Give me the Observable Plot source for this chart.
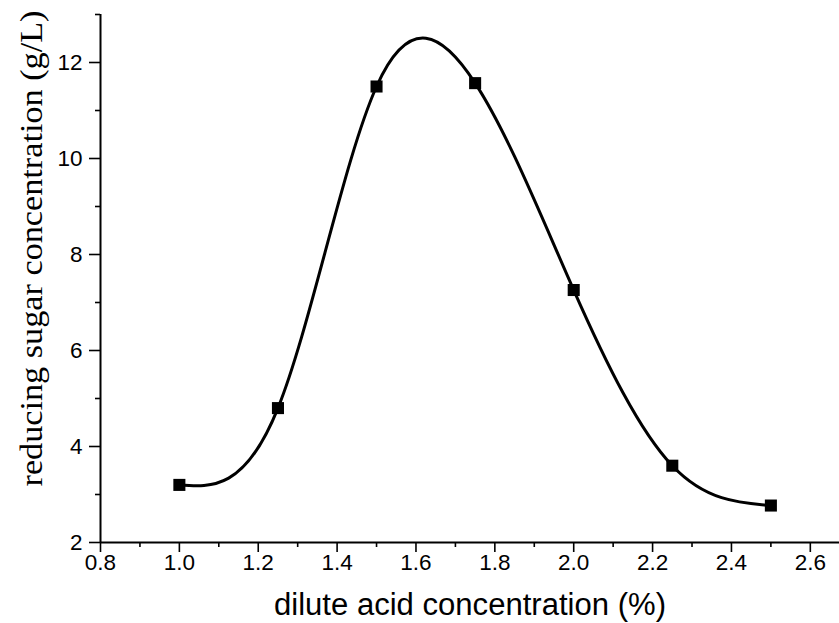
<!DOCTYPE html>
<html>
<head>
<meta charset="utf-8">
<script src="https://cdn.jsdelivr.net/npm/d3@7"></script>
<script src="https://cdn.jsdelivr.net/npm/@observablehq/plot@0.6"></script>
<style>
  html, body { margin: 0; padding: 0; background: #fff; }
  #chart svg { display: block; }
  #chart svg g[aria-label$="tick label"] text { font-size: 22.5px !important; font-family: "Liberation Sans", Arial, sans-serif !important; fill: #000; }
</style>
</head>
<body>
<div id="chart"></div>
<script>
const acid = [1.0, 1.25, 1.5, 1.75, 2.0, 2.25, 2.5];
const sugar = [3.2, 4.8, 11.5, 11.57, 7.26, 3.6, 2.77];
const xMajor = [0.8, 1.0, 1.2, 1.4, 1.6, 1.8, 2.0, 2.2, 2.4, 2.6];
const xMinor = [0.9, 1.1, 1.3, 1.5, 1.7, 1.9, 2.1, 2.3, 2.5];
const yMajor = [2, 4, 6, 8, 10, 12];
const yMinor = [3, 5, 7, 9, 11, 13];
const xTitle = "dilute acid concentration (%)";
const yTitle = "reducing sugar concentration (g/L)";

const data = acid.map((a, i) => ({x: a, y: sugar[i]}));
const tickFont = "Liberation Sans, Arial, sans-serif";

const chart = Plot.plot({
  width: 839,
  height: 623,
  marginLeft: 100,
  marginRight: 0,
  marginTop: 14,
  marginBottom: 81,
  style: {fontFamily: tickFont, color: "#000", background: "#fff", overflow: "visible"},
  x: {domain: [0.8, 2.674]},
  y: {domain: [2, 13]},
  marks: [
    Plot.axisX({ticks: xMajor, tickSize: 10, tickPadding: 2, tickFormat: d3.format(".1f"), label: null, strokeWidth: 1.6}),
    Plot.axisX({ticks: xMinor, tickSize: 5, tickFormat: () => "", label: null, strokeWidth: 1.6}),
    Plot.axisY({ticks: yMajor, tickSize: 11, tickPadding: 7, tickFormat: d3.format("d"), label: null, strokeWidth: 1.6}),
    Plot.axisY({ticks: yMinor, tickSize: 5, tickFormat: () => "", label: null, strokeWidth: 1.6}),
    Plot.ruleY([2], {stroke: "#000", strokeWidth: 2}),
    Plot.ruleX([0.8], {stroke: "#000", strokeWidth: 2}),
    Plot.line(data, {x: "x", y: "y", curve: "natural", stroke: "#000", strokeWidth: 3}),
    Plot.dot(data, {x: "x", y: "y", symbol: "square", r: 6.8, fill: "#000", stroke: "none"}),
    Plot.text([xTitle], {frameAnchor: "bottom", lineAnchor: "middle", textAnchor: "middle", dy: 63, fontSize: 31, fontFamily: "Liberation Sans, Arial, sans-serif", fill: "#000", className: "xtitle"}),
    Plot.text([yTitle], {frameAnchor: "left", lineAnchor: "middle", textAnchor: "middle", dx: -69, dy: -30, rotate: -90, fontSize: 32, fontFamily: "Liberation Serif, Times New Roman, serif", fill: "#000", className: "ytitle"})
  ]
});
document.getElementById("chart").appendChild(chart);
d3.select(chart).selectAll(".xtitle text").attr("textLength", 392).attr("lengthAdjust", "spacingAndGlyphs");
d3.select(chart).selectAll(".ytitle text").attr("textLength", 476).attr("lengthAdjust", "spacingAndGlyphs");
</script>
</body>
</html>
